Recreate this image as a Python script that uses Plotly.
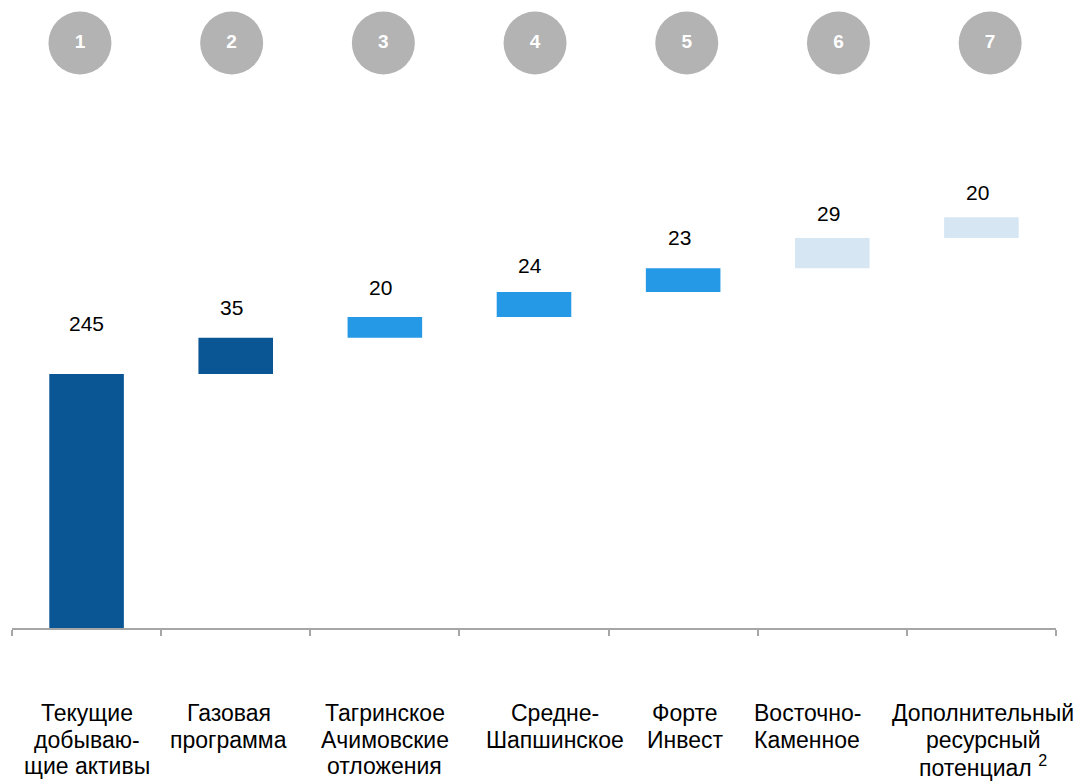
import plotly.graph_objects as go

categories = [
    "Текущие<br>добываю-<br>щие активы",
    "Газовая<br>программа",
    "Тагринское<br>Ачимовские<br>отложения",
    "Средне-<br>Шапшинское",
    "Форте<br>Инвест",
    "Восточно-<br>Каменное",
    "Дополнительный<br>ресурсный<br>потенциал <sup>2</sup>",
]
values = [245, 35, 20, 24, 23, 29, 20]
step_numbers = ["1", "2", "3", "4", "5", "6", "7"]

# styling (pixel offsets of text, not data)
value_label_yshift = [37, 17, 16, 13, 17, 11, 11]
value_label_xshift = [0, -4, -4, -4, -4, -4, -4]
cat_label_xshift = [0, -7, 0, 21, 2, -25, 2]
first_line_offset = 85   # px below axis line to centre of first label line
line_step = 26.5         # px between label lines

DARK = "#0A5594"
MID = "#2699E6"
LIGHT = "#D6E6F3"
colors = [DARK, DARK, MID, MID, MID, LIGHT, LIGHT]

bases = []
running = 0
for v in values:
    bases.append(running)
    running += v

x_idx = list(range(len(categories)))
FONT = "Liberation Sans, Arial"

fig = go.Figure()
fig.add_trace(go.Bar(
    x=categories, y=values, base=bases,
    marker=dict(color=colors, line=dict(width=0)),
    width=0.5, showlegend=False, hoverinfo="skip",
))

# value labels
for i, (c, v, b) in enumerate(zip(categories, values, bases)):
    fig.add_annotation(
        x=c, y=b + v, text=str(v), showarrow=False,
        xref="x", yref="y", yanchor="bottom",
        yshift=value_label_yshift[i], xshift=value_label_xshift[i],
        font=dict(family=FONT, size=21, color="#000000"),
    )

# category labels, one annotation per line for tighter line spacing
for i, c in enumerate(categories):
    for j, line in enumerate(c.split("<br>")):
        fig.add_annotation(
            x=c, y=0, text=line, showarrow=False,
            xref="x", yref="paper", yanchor="middle", align="center",
            borderpad=0,
            yshift=-(first_line_offset + j * line_step), xshift=cat_label_xshift[i],
            font=dict(family=FONT, size=23, color="#000000"),
        )

# numbered circles
fig.add_trace(go.Scatter(
    x=x_idx, y=[0.9315] * len(x_idx), xaxis="x2", yaxis="y2",
    mode="markers+text", text=step_numbers, textposition="middle center",
    marker=dict(size=63, color="#B3B3B3", line=dict(width=0)),
    textfont=dict(family=FONT, size=19, color="#FFFFFF"),
    texttemplate="<b>%{text}</b>",
    showlegend=False, hoverinfo="skip",
))

fig.update_layout(
    width=1082, height=781,
    margin=dict(l=12, r=26, t=0, b=153, autoexpand=False),
    paper_bgcolor="white", plot_bgcolor="white",
    bargap=0.5,
    xaxis=dict(
        type="category", range=[-0.5, 6.5],
        showline=True, linecolor="#A6A6A6", linewidth=1.5,
        ticks="outside", tickson="boundaries", ticklen=6, tickcolor="#A6A6A6", tickwidth=1.5,
        showgrid=False, zeroline=False, showticklabels=False, automargin=False,
    ),
    yaxis=dict(range=[0, 605.6], visible=False, showgrid=False, zeroline=False),
    xaxis2=dict(range=[-0.448, 6.434], overlaying="x", visible=False),
    yaxis2=dict(range=[0, 1], overlaying="y", visible=False),
)

fig.write_html("out.html")
